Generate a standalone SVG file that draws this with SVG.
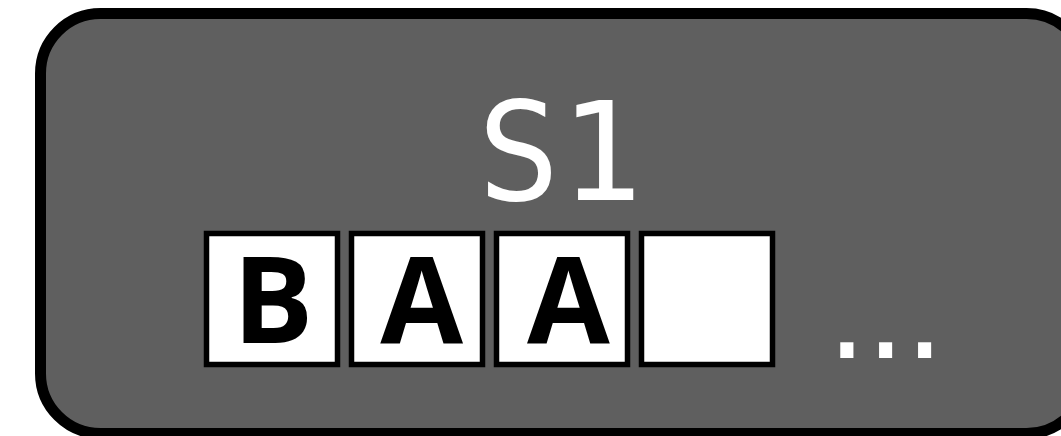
<svg xmlns="http://www.w3.org/2000/svg" width="1061" height="436" viewBox="0 0 1061 436">
<style>
.frame{fill:#5f5f5f;stroke:#000;stroke-width:11}
.cell{fill:#fff;stroke:#000;stroke-width:5.5}
.lbl{font-family:"Open Sans","DejaVu Sans",sans-serif;font-weight:bold;font-size:120px;fill:#000;text-anchor:middle}
.title{font-family:"DejaVu Sans Mono",monospace;font-size:137px;fill:#fff;text-anchor:middle}
.dots{font-family:"DejaVu Sans Mono",monospace;font-size:106px;fill:#fff;letter-spacing:-25px}
</style>
<g id="state-s1">
<rect class="frame" x="40.5" y="13.5" width="1046" height="420" rx="60" ry="60"/>
<text class="title" x="560" y="200">S1</text>
</g>
<g id="cell-1"><rect class="cell" x="206.5" y="233.5" width="131" height="131"/><text class="lbl" x="273" y="343">B</text></g>
<g id="cell-2"><rect class="cell" x="351.5" y="233.5" width="131" height="131"/><text class="lbl" x="421.7" y="343">A</text></g>
<g id="cell-3"><rect class="cell" x="496.5" y="233.5" width="131" height="131"/><text class="lbl" x="568.3" y="343">A</text></g>
<g id="cell-4"><rect class="cell" x="641.5" y="233.5" width="131" height="131"/></g>
<g id="ellipsis"><text class="dots" x="815" y="358">...</text></g>
<g id="connectors"></g>
</svg>
